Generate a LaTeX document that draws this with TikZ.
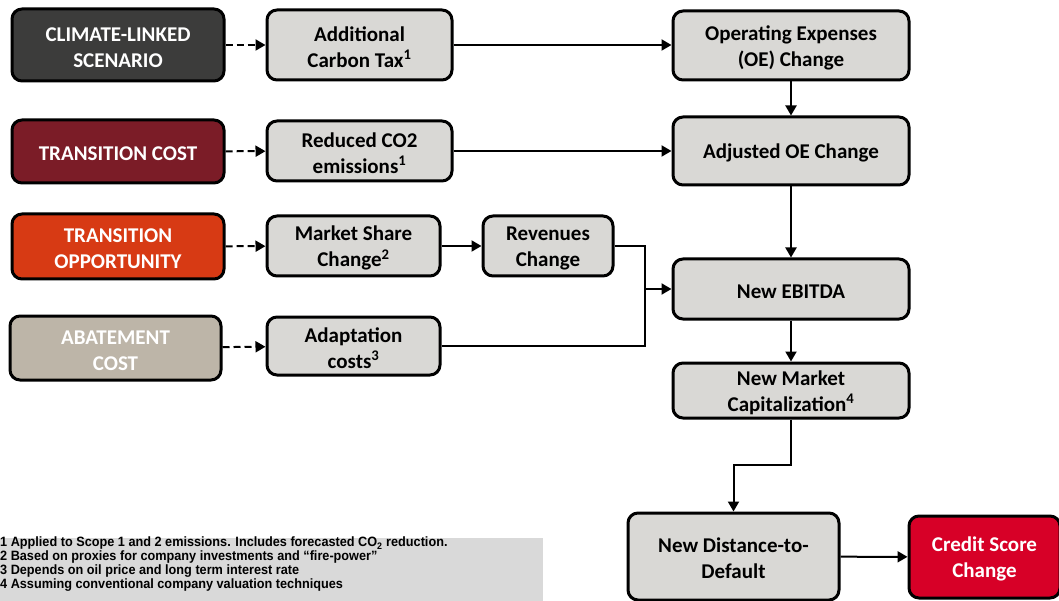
\documentclass[tikz,border=0pt]{standalone}
\usepackage{fontspec}
\setmainfont{Carlito}
\newfontfamily\notefont[FakeStretch=0.94,BoldFont={Liberation Sans Bold}]{Liberation Sans}
\usetikzlibrary{arrows.meta}
\definecolor{boxgray}{HTML}{D9D8D5}
\definecolor{darkgray}{HTML}{3C3C3B}
\definecolor{wine}{HTML}{7B1C27}
\definecolor{orangered}{HTML}{D73A14}
\definecolor{beige}{HTML}{BDB5A8}
\definecolor{creditred}{HTML}{D70027}
\definecolor{notegray}{HTML}{D9D9D9}
\tikzset{
  box/.style={draw=black, line width=3pt, rounded corners=10pt, align=center,
    font=\fontsize{21}{26}\selectfont\bfseries, inner sep=0pt},
  oneline/.style={execute at begin node={\rule{0pt}{19pt}}},
  twoline/.style={text height=45pt},
  gbox/.style={box, fill=boxgray, text=black},
  cbox/.style={box, text=white},
  conn/.style={line width=2pt, -{Triangle[length=10pt,width=11pt]}},
  dconn/.style={conn, dash pattern=on 7pt off 4pt},
}
\begin{document}
\begin{tikzpicture}[x=1pt,y=-1pt]
\useasboundingbox (0,0) rectangle (1059,601);
% footnote
\fill[notegray] (0,538) rectangle (543,601);
\node[anchor=north west, align=left, inner sep=0pt, font=\notefont\bfseries\fontsize{13.5}{14}\selectfont] (notes) at (0,537)
{1 Applied to Scope 1 and 2 emissions. Includes forecasted CO\textsubscript{2} reduction.\\
2 Based on proxies for company investments and “fire-power”\\
3 Depends on oil price and long term interest rate\\
4 Assuming conventional company valuation techniques};
% category boxes
\node[cbox, twoline, fill=darkgray, minimum width=212, minimum height=72] (cls) at (118,45) {CLIMATE-LINKED\\SCENARIO};
\node[cbox, oneline, fill=wine, minimum width=212, minimum height=63] (tc) at (118,151.5) {TRANSITION COST};
\node[cbox, twoline, fill=orangered, minimum width=212, minimum height=65] (to) at (118,246.5) {TRANSITION\\OPPORTUNITY};
\node[cbox, twoline, fill=beige, minimum width=211, minimum height=64] (ac) at (115.5,348) {ABATEMENT\\COST};
% middle boxes
\node[gbox, twoline, minimum width=185, minimum height=70] (act) at (359.5,45) {Additional\\Carbon Tax\textsuperscript{1}};
\node[gbox, twoline, minimum width=185, minimum height=60] (rce) at (359.5,151) {Reduced CO2\\emissions\textsuperscript{1}};
\node[gbox, twoline, minimum width=173, minimum height=60] (msc) at (353.5,246) {Market Share\\Change\textsuperscript{2}};
\node[gbox, twoline, minimum width=173, minimum height=58] (adc) at (353.5,346) {Adaptation\\costs\textsuperscript{3}};
\node[gbox, twoline, minimum width=130, minimum height=60] (rev) at (548,246) {Revenues\\Change};
% right column
\node[gbox, twoline, minimum width=236, minimum height=69] (oe) at (791,45.5) {Operating Expenses\\(OE) Change};
\node[gbox, oneline, minimum width=236, minimum height=68] (aoe) at (791,151) {Adjusted OE Change};
\node[gbox, oneline, minimum width=236, minimum height=60] (ebitda) at (791,289) {New EBITDA};
\node[gbox, twoline, minimum width=236, minimum height=55] (nmc) at (791,390.5) {New Market\\Capitalization\textsuperscript{4}};
\node[gbox, twoline, minimum width=211, minimum height=87] (ndd) at (733.5,556.5) {New Distance-to-\\Default};
\node[cbox, twoline, fill=creditred, minimum width=151, minimum height=82] (csc) at (984.5,557) {Credit Score\\Change};
% connectors
\draw[dconn] (cls) -- (act);
\draw[dconn] (tc) -- (rce);
\draw[dconn] (to) -- (msc);
\draw[dconn] (ac) -- (adc);
\draw[conn] (act) -- (act -| oe.west);
\draw[conn] (rce) -- (rce -| aoe.west);
\draw[conn] (msc) -- (rev);
\coordinate (j) at (645,289);
\draw[line width=2pt] (rev.east) -| (j);
\draw[line width=2pt] (adc.east) -| (j);
\draw[conn] (j) -- (ebitda.west);
\draw[conn] (oe) -- (aoe);
\draw[conn] (aoe) -- (ebitda);
\draw[conn] (ebitda) -- (nmc);
\coordinate (k) at (791,465);
\draw[conn] (nmc.south) -- (k) -| (ndd.north);
\draw[conn] (ndd) -- (csc);
\end{tikzpicture}
\end{document}
